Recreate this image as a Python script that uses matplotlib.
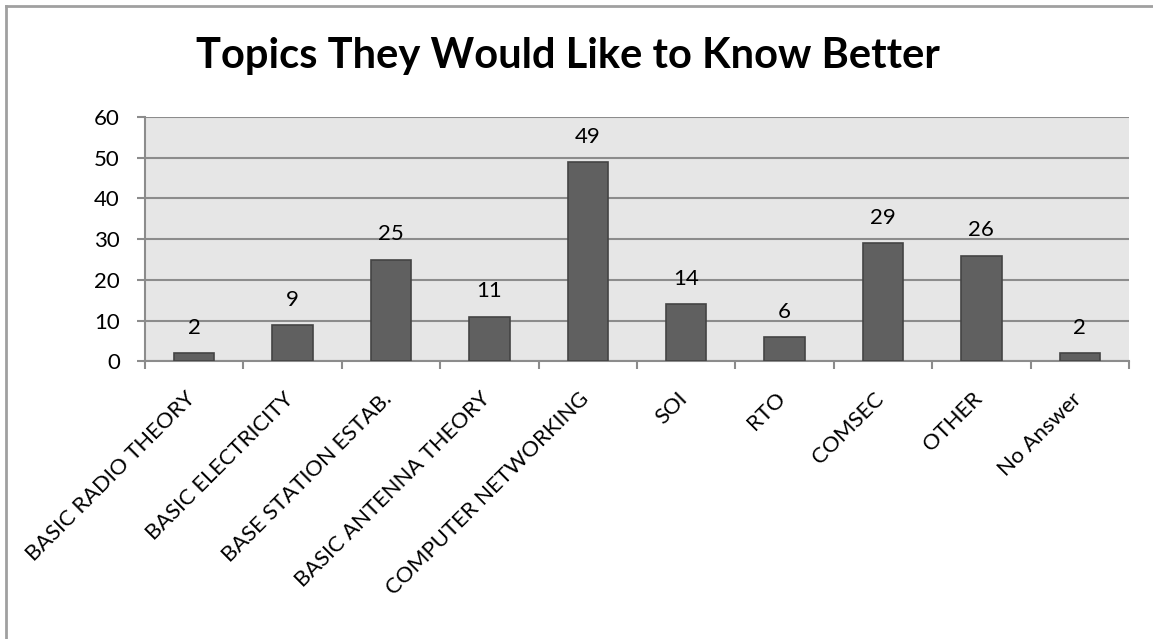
import matplotlib
matplotlib.use("Agg")
import matplotlib.pyplot as plt
from matplotlib.lines import Line2D

categories = [
    "BASIC RADIO THEORY",
    "BASIC ELECTRICITY",
    "BASE STATION ESTAB.",
    "BASIC ANTENNA THEORY",
    "COMPUTER NETWORKING",
    "SOI",
    "RTO",
    "COMSEC",
    "OTHER",
    "No Answer",
]
counts = [2, 9, 25, 11, 49, 14, 6, 29, 26, 2]
y_ticks = [0, 10, 20, 30, 40, 50, 60]
title = "Topics They Would Like to Know Better"

plt.rcParams["font.family"] = ["Lato", "DejaVu Sans"]

fig = plt.figure(figsize=(11.53, 6.39), dpi=100)
ax = fig.add_axes([145 / 1153, 1 - 361.5 / 639, (1129 - 145) / 1153, (361.5 - 117) / 639])

grid_col = "#8c8c8c"
ax.set_facecolor("#e6e6e6")
x = list(range(len(categories)))
bars = ax.bar(x, counts, width=0.41, color="#606060", edgecolor="#444444",
              linewidth=1.2, zorder=3)

ax.set_xlim(-0.5, len(categories) - 0.5)
ax.set_ylim(0, 60)
ax.set_yticks(y_ticks)
ax.set_yticklabels([str(v) for v in y_ticks], fontsize=16)
ax.yaxis.grid(True, color=grid_col, linewidth=1.5, zorder=1)
ax.tick_params(axis="y", length=6, width=1.5, color=grid_col, pad=12)

# category boundaries carry the tick marks, labels sit under the bar centres
ax.set_xticks([i - 0.5 for i in range(len(categories) + 1)])
ax.set_xticklabels([])
ax.tick_params(axis="x", length=6, width=1.5, color=grid_col)
for i, name in enumerate(categories):
    ax.text(i - 0.02, -0.14, name, transform=ax.get_xaxis_transform(),
            rotation=45, rotation_mode="anchor", ha="right", va="center",
            fontsize=15.8)

for side in ("top", "right"):
    ax.spines[side].set_visible(False)
for side in ("left", "bottom"):
    ax.spines[side].set_color(grid_col)
    ax.spines[side].set_linewidth(1.5)

for b, v in zip(bars, counts):
    ax.annotate(str(v), (b.get_x() + b.get_width() / 2, v),
                xytext=(0, 11), textcoords="offset points",
                ha="center", va="bottom", fontsize=16)

fig.text(568 / 1153, 1 - 56 / 639, title, ha="center", va="center",
         fontsize=30, fontweight="bold")

# outer frame on the left and top edges
frame_col = "#a0a0a0"
fig.add_artist(Line2D([6 / 1153, 6 / 1153], [0, 1 - 6 / 639],
                      transform=fig.transFigure, color=frame_col, linewidth=2))
fig.add_artist(Line2D([6 / 1153, 1], [1 - 6 / 639, 1 - 6 / 639],
                      transform=fig.transFigure, color=frame_col, linewidth=2))

fig.savefig("out.png", dpi=100)
